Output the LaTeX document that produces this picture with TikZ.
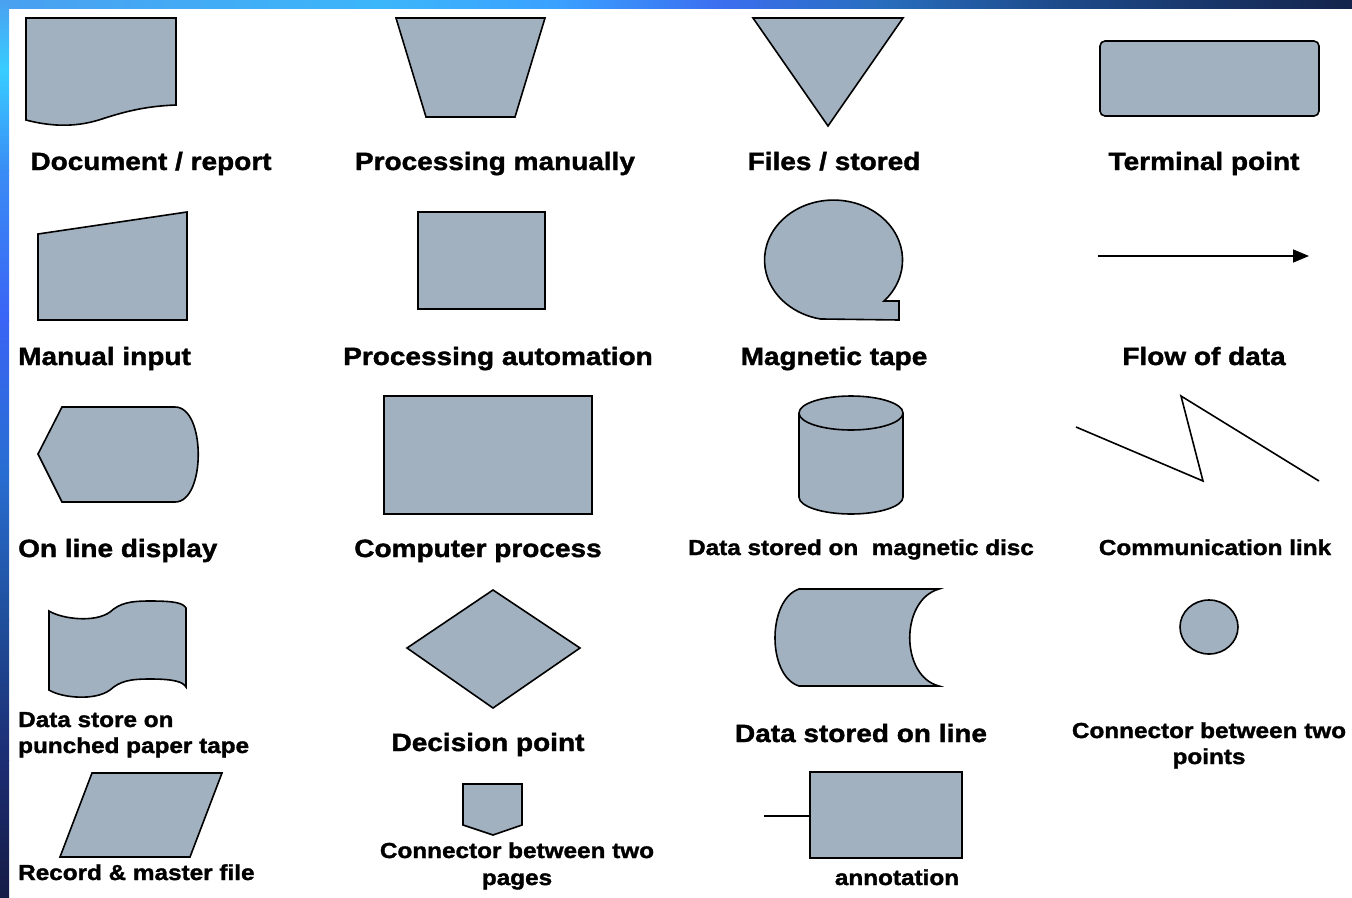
\documentclass[tikz,border=0pt]{standalone}
\usepackage{fontspec}
\setmainfont{Liberation Sans}[FakeStretch=1.12, BoldFeatures={FakeBold=1.5}]
\usetikzlibrary{arrows.meta}
\definecolor{shapefill}{RGB}{162,177,192}
\definecolor{tA}{RGB}{74,160,240}
\definecolor{tB}{RGB}{60,182,250}
\definecolor{tC}{RGB}{58,160,255}
\definecolor{tD}{RGB}{60,110,240}
\definecolor{tE}{RGB}{40,110,190}
\definecolor{tF}{RGB}{30,75,140}
\definecolor{tG}{RGB}{20,36,75}
\definecolor{lA}{RGB}{74,160,240}
\definecolor{lB}{RGB}{56,205,255}
\definecolor{lC}{RGB}{58,140,245}
\definecolor{lD}{RGB}{58,100,245}
\definecolor{lE}{RGB}{40,110,210}
\definecolor{lF}{RGB}{32,78,155}
\definecolor{lG}{RGB}{28,45,115}
\definecolor{lH}{RGB}{22,28,70}
\tikzset{
  sym/.style={draw=black, line width=1.6pt, fill=shapefill, line join=miter},
  wire/.style={draw=black, line width=1.6pt},
  biglbl/.style={font=\bfseries\fontsize{25}{30}\selectfont, inner sep=0pt, anchor=base},
  smalllbl/.style={font=\bfseries\fontsize{21.7}{27}\selectfont, inner sep=0pt, anchor=base},
}
\begin{document}
\begin{tikzpicture}[x=1pt,y=-1pt]
\useasboundingbox (0,0) rectangle (1352,897);
\fill[white] (0,0) rectangle (1352,897);

% slide frame: gradient bars along the top and left edges
\shade[left color=tA, right color=tB] (0,0) rectangle (380.5,8);
\shade[left color=tB, right color=tC] (380,0) rectangle (560.5,8);
\shade[left color=tC, right color=tD] (560,0) rectangle (720.5,8);
\shade[left color=tD, right color=tE] (720,0) rectangle (880.5,8);
\shade[left color=tE, right color=tF] (880,0) rectangle (1050.5,8);
\shade[left color=tF, right color=tG] (1050,0) rectangle (1352,8);
\shade[top color=lA, bottom color=lB] (0,0) rectangle (9,70.5);
\shade[top color=lB, bottom color=lC] (0,70) rectangle (9,170.5);
\shade[top color=lC, bottom color=lD] (0,170) rectangle (9,320.5);
\shade[top color=lD, bottom color=lE] (0,320) rectangle (9,470.5);
\shade[top color=lE, bottom color=lF] (0,470) rectangle (9,620.5);
\shade[top color=lF, bottom color=lG] (0,620) rectangle (9,760.5);
\shade[top color=lG, bottom color=lH] (0,760) rectangle (9,897);

% ---- row 1 ----
% document / report
\draw[sym] (26,18) -- (176,18) -- (176,105)
  .. controls (150,106) and (130,110) .. (105,118)
  .. controls (85,125) and (60,129) .. (26,120) -- cycle;
% manual operation
\draw[sym] (396,18) -- (545,18) -- (515,117) -- (426,117) -- cycle;
% file / storage
\draw[sym] (753,18) -- (903,18) -- (828,126) -- cycle;
% terminator
\draw[sym, rounded corners=5pt] (1100,41) rectangle (1319,116);

\node[biglbl] (lDoc)  at (151,170)  {Document / report};
\node[biglbl] (lMan)  at (495,170)  {Processing manually};
\node[biglbl] (lFile) at (834,170)  {Files / stored};
\node[biglbl] (lTerm) at (1204,170) {Terminal point};

% ---- row 2 ----
% manual input
\draw[sym] (38,234) -- (187,212) -- (187,320) -- (38,320) -- cycle;
% process
\draw[sym] (418,212) rectangle (545,309);
% magnetic tape
\draw[sym] (884,301) arc[start angle=43, end angle=-259, x radius=69, y radius=60]
  -- (899,320) -- (899,301) -- cycle;
% flow line
\coordinate (fA) at (1098,256);
\coordinate (fB) at (1309,256);
\draw[wire, -{Triangle[length=16pt,width=13pt]}] (fA) -- (fB);

\node[biglbl, anchor=base west] (lMin) at (18,365) {Manual input};
\node[biglbl] (lAuto) at (498,365)  {Processing automation};
\node[biglbl] (lTape) at (834,365)  {Magnetic tape};
\node[biglbl] (lFlow) at (1204,365) {Flow of data};

% ---- row 3 ----
% display
\draw[sym] (62,407) -- (175,407) .. controls (206,407) and (206,502) .. (175,502)
  -- (62,502) -- (38,454) -- cycle;
% computer process
\draw[sym] (384,396) rectangle (592,514);
% magnetic disc
\draw[sym] (799,413) -- (799,497)
  arc[start angle=180, end angle=0, x radius=52, y radius=17] -- (903,413)
  arc[start angle=0, end angle=-180, x radius=52, y radius=17] -- cycle;
\draw[wire] (799,413) arc[start angle=180, end angle=0, x radius=52, y radius=17];
% communication link
\draw[wire, line join=miter] (1076,427) -- (1203,481) -- (1181,396) -- (1319,481);

\node[biglbl, anchor=base west] (lDisp) at (18,557) {On line display};
\node[biglbl] (lComp) at (478,557) {Computer process};
\node[smalllbl] (lDisc) at (861,555) {Data stored on\ \ magnetic disc};
\node[smalllbl] (lComm) at (1215,555) {Communication link};

% ---- row 4 ----
% punched paper tape
\draw[sym] (49,611) .. controls (62,619) and (95,623) .. (110,612)
  .. controls (120,603) and (130,601) .. (150,601)
  .. controls (175,601) and (183,603) .. (186,608)
  -- (186,687)
  .. controls (183,682) and (175,679) .. (150,679)
  .. controls (130,679) and (120,681) .. (110,690)
  .. controls (95,701) and (62,698) .. (49,690) -- cycle;
% decision
\draw[sym] (407,648) -- (493,590) -- (580,648) -- (493,708) -- cycle;
% online storage
\draw[sym] (799,589) -- (939,589) .. controls (900,600) and (900,676) .. (939,686)
  -- (799,686) .. controls (767,676) and (767,600) .. (799,589) -- cycle;
% on-page connector
\draw[sym] (1209,627) ellipse[x radius=29, y radius=27];

\node[smalllbl, anchor=base west] (lTape1) at (18,727) {Data store on};
\node[smalllbl, anchor=base west] (lTape2) at (18,753) {punched paper tape};
\node[biglbl] (lDec)  at (488,751) {Decision point};
\node[biglbl] (lLine) at (861,742) {Data stored on line};
\node[smalllbl] (lCon1) at (1209,738) {Connector between two};
\node[smalllbl] (lCon2) at (1209,764) {points};

% ---- row 5 ----
% record / master file
\draw[sym] (92,773) -- (222,773) -- (190,857) -- (60,857) -- cycle;
% off-page connector
\draw[sym] (463,784) -- (522,784) -- (522,825) -- (493,835) -- (463,825) -- cycle;
% annotation
\draw[sym] (810,772) rectangle (962,858);
\coordinate (aL) at (764,816);
\coordinate (aR) at (810,816);
\draw[wire] (aL) -- (aR);

\node[smalllbl, anchor=base west] (lRec) at (18,880) {Record \& master file};
\node[smalllbl] (lPg1) at (517,858) {Connector between two};
\node[smalllbl] (lPg2) at (517,885) {pages};
\node[smalllbl] (lAnn) at (897,885) {annotation};
\end{tikzpicture}
\end{document}
